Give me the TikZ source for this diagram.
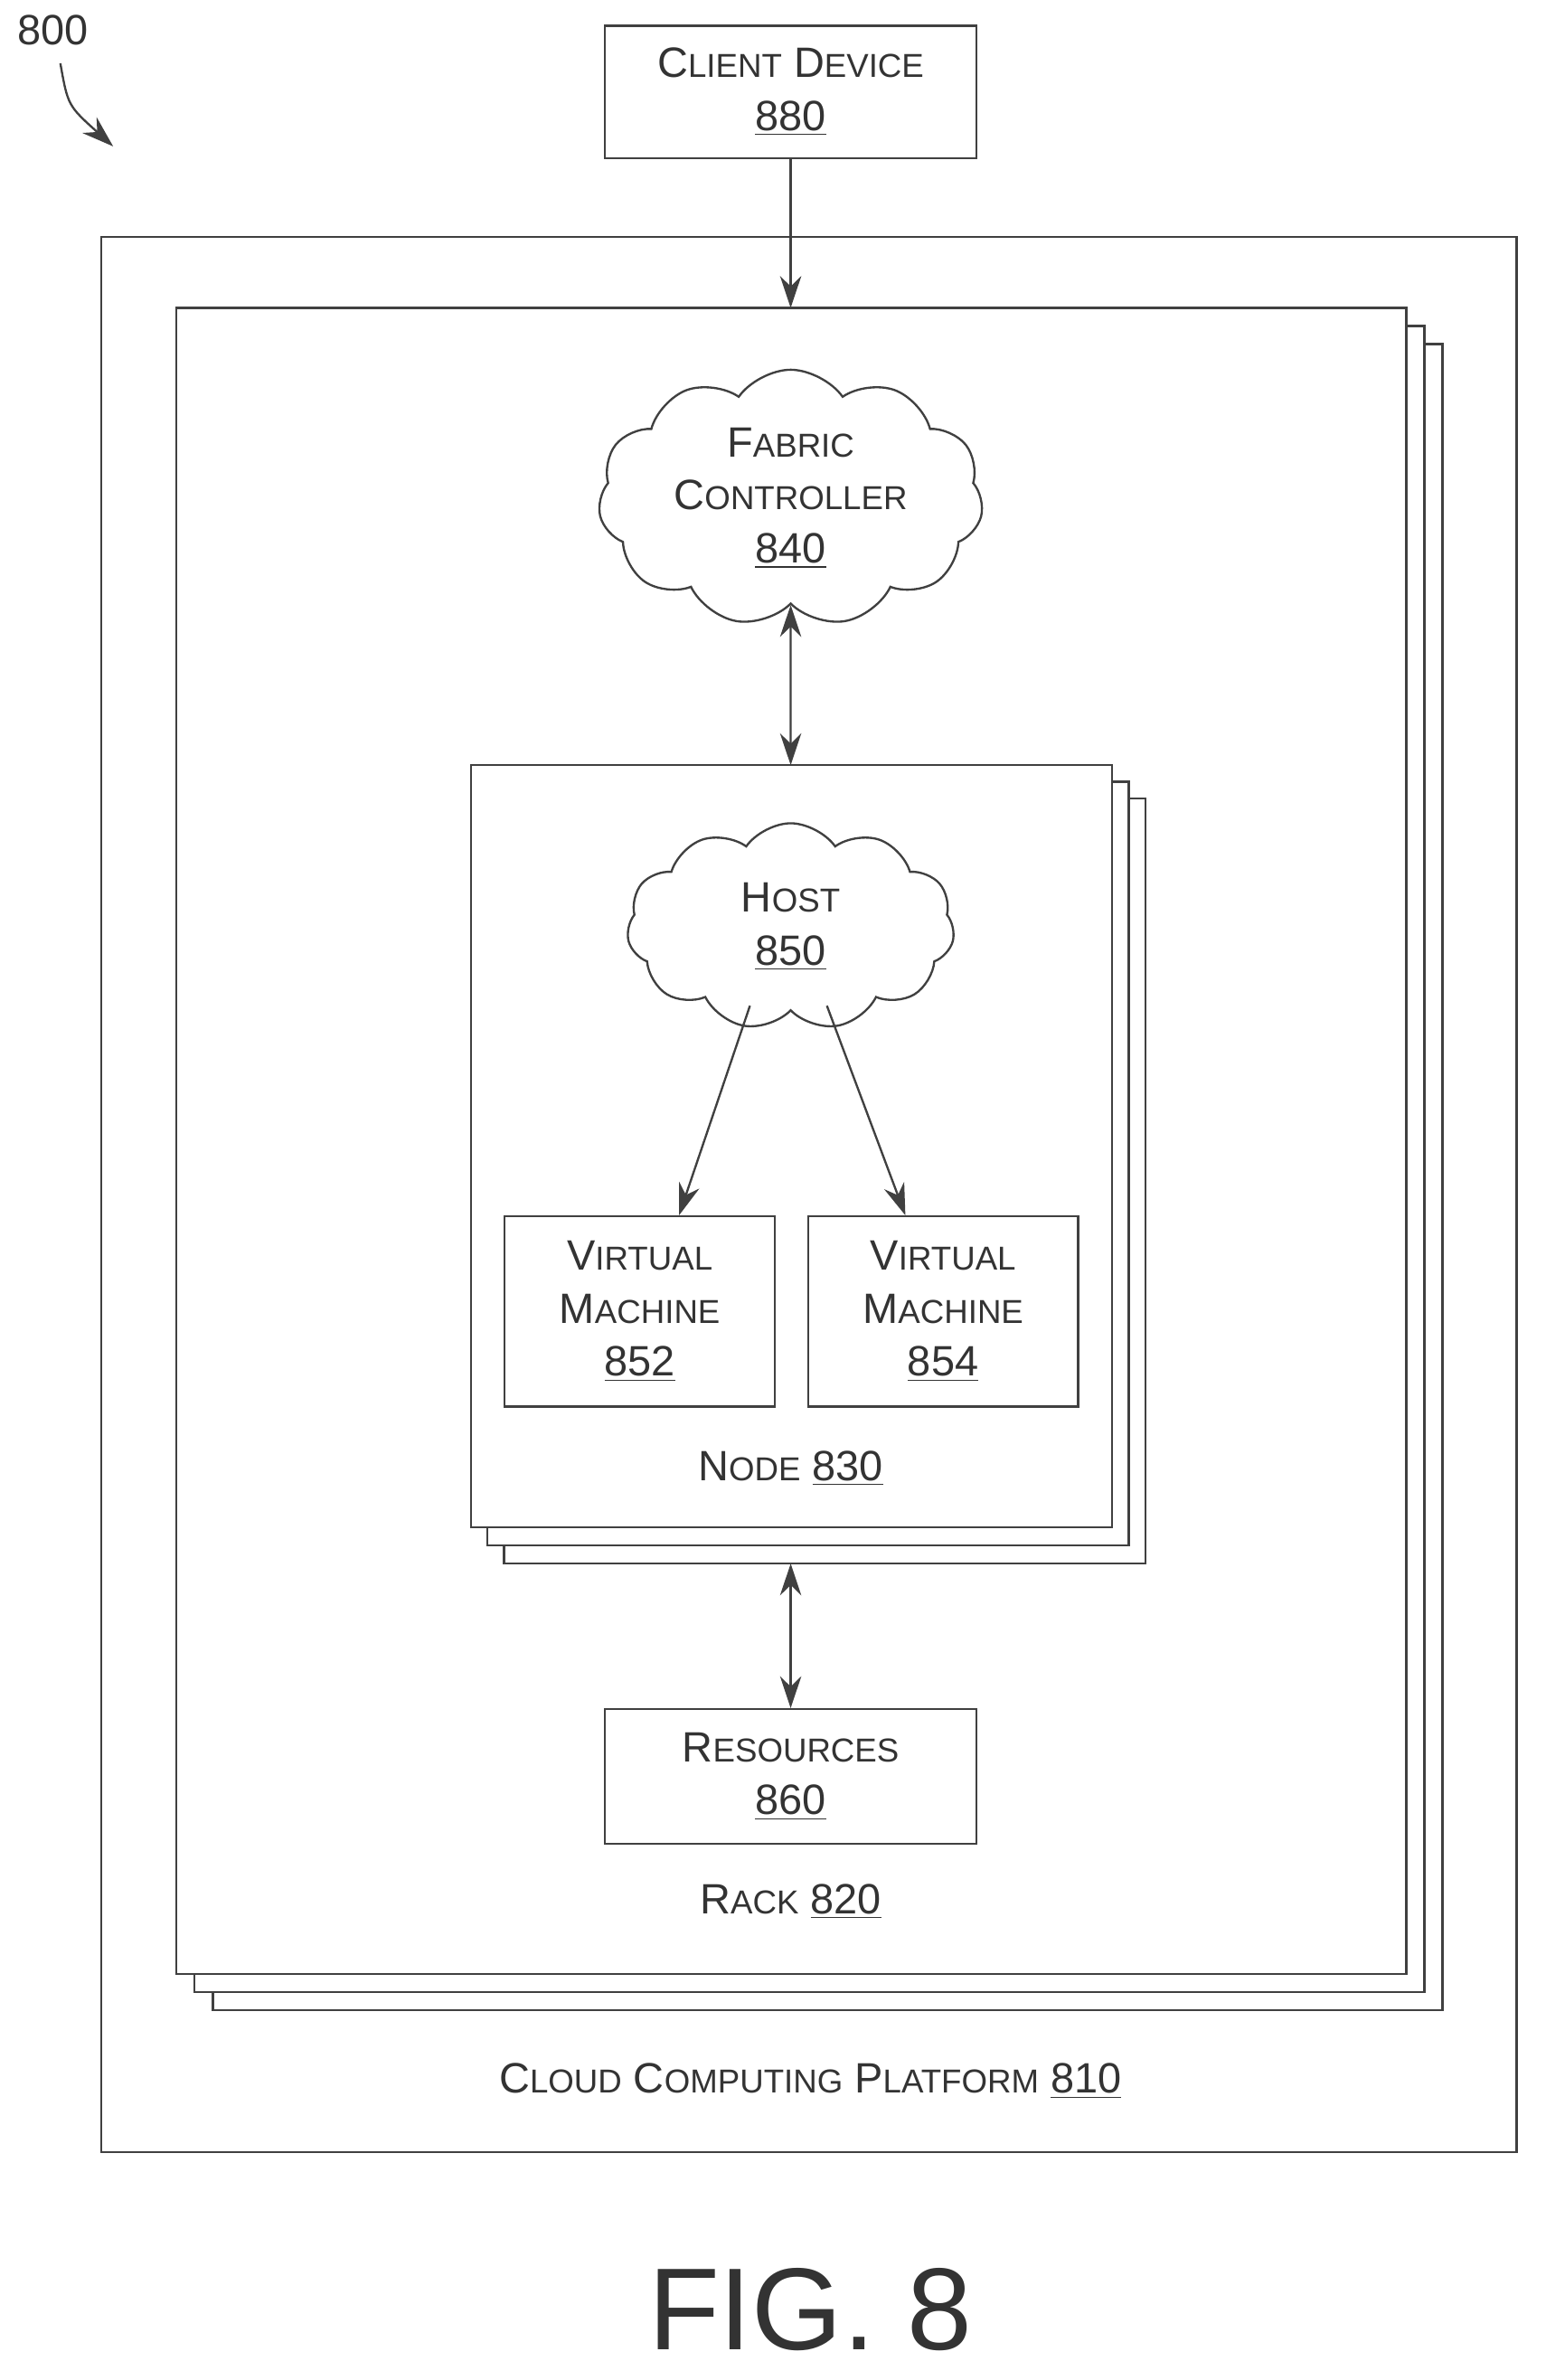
\documentclass[tikz,border=0pt]{standalone}
\usepackage{fontspec}
\setmainfont{Liberation Sans}
\usetikzlibrary{arrows.meta,shapes.symbols,positioning}
\newcommand\lc[1]{{\fontsize{12.5}{20}\selectfont #1}}
\begin{document}
\begin{tikzpicture}
  [x=0.02cm,y=-0.02cm,
   every node/.style={font=\fontsize{16}{20}\selectfont,align=center,text=black!80},
   box/.style={draw=black!75,thick,fill=white},
   puff/.style={cloud,cloud puffs=11,cloud puff arc=110,draw=black!75,thick,fill=white,inner sep=0pt},
   link/.style={thick,draw=black!75,-{Stealth[length=12pt,width=8pt]}},
   both/.style={thick,draw=black!75,{Stealth[length=12pt,width=8pt]}-{Stealth[length=12pt,width=8pt]}}]

  \useasboundingbox (0,0) rectangle (1024,1577);

  % platform
  \draw[box] (67,157) rectangle (1005,1426);
  \node (platform) at (537,1379) {C\lc{LOUD} C\lc{OMPUTING} P\lc{LATFORM} \underline{810}};

  % rack stack
  \draw[box] (141,228) rectangle (956,1332);
  \draw[box] (129,216) rectangle (944,1320);
  \draw[box] (117,204) rectangle (932,1308);
  \coordinate (racktop) at (524,204);
  \node (rack) at (524,1260) {R\lc{ACK} \underline{820}};

  % node stack
  \draw[box] (334,529) rectangle (759,1036);
  \draw[box] (323,518) rectangle (748,1024);
  \draw[box] (312,507) rectangle (737,1012);
  \coordinate (nodetop) at (524,507);
  \coordinate (nodebot) at (524,1036);
  \node (node) at (524,973) {N\lc{ODE} \underline{830}};

  \node[box,minimum width=246*0.02cm,minimum height=88*0.02cm] (client) at (524,61)
    {C\lc{LIENT} D\lc{EVICE}\\\underline{880}};
  \node[puff,inner sep=-22pt,minimum width=255*0.02cm,minimum height=170*0.02cm] (fabric) at (524,330)
    {F\lc{ABRIC}\\C\lc{ONTROLLER}\\\underline{840}};
  \node[puff,inner sep=-6pt,minimum width=217*0.02cm,minimum height=137*0.02cm] (host) at (524,614)
    {H\lc{OST}\\\underline{850}};
  \node[box,minimum width=179*0.02cm,minimum height=126*0.02cm] (vmA) at (424,869)
    {V\lc{IRTUAL}\\M\lc{ACHINE}\\\underline{852}};
  \node[box,minimum width=179*0.02cm,minimum height=126*0.02cm] (vmB) at (625,869)
    {V\lc{IRTUAL}\\M\lc{ACHINE}\\\underline{854}};
  \node[box,minimum width=246*0.02cm,minimum height=89*0.02cm] (res) at (524,1177)
    {R\lc{ESOURCES}\\\underline{860}};

  \draw[link] (client) -- (racktop);
  \draw[both] (fabric.south) -- (nodetop);
  \draw[both] (nodebot) -- (res);
  \draw[link] (host.south) ++(-27,-4) coordinate (hA) (hA) -- (vmA.north -| 450,0);
  \draw[link] (host.south) ++(24,-4) coordinate (hB) (hB) -- (vmB.north -| 600,0);

  \node (fig) at (35,20) {800};
  \coordinate (figend) at (75,97);
  \draw[link] (40,42) .. controls (45,70) .. (figend);
  \node[font=\fontsize{44}{52}\selectfont] (caption) at (537,1530) {FIG. 8};
\end{tikzpicture}
\end{document}
